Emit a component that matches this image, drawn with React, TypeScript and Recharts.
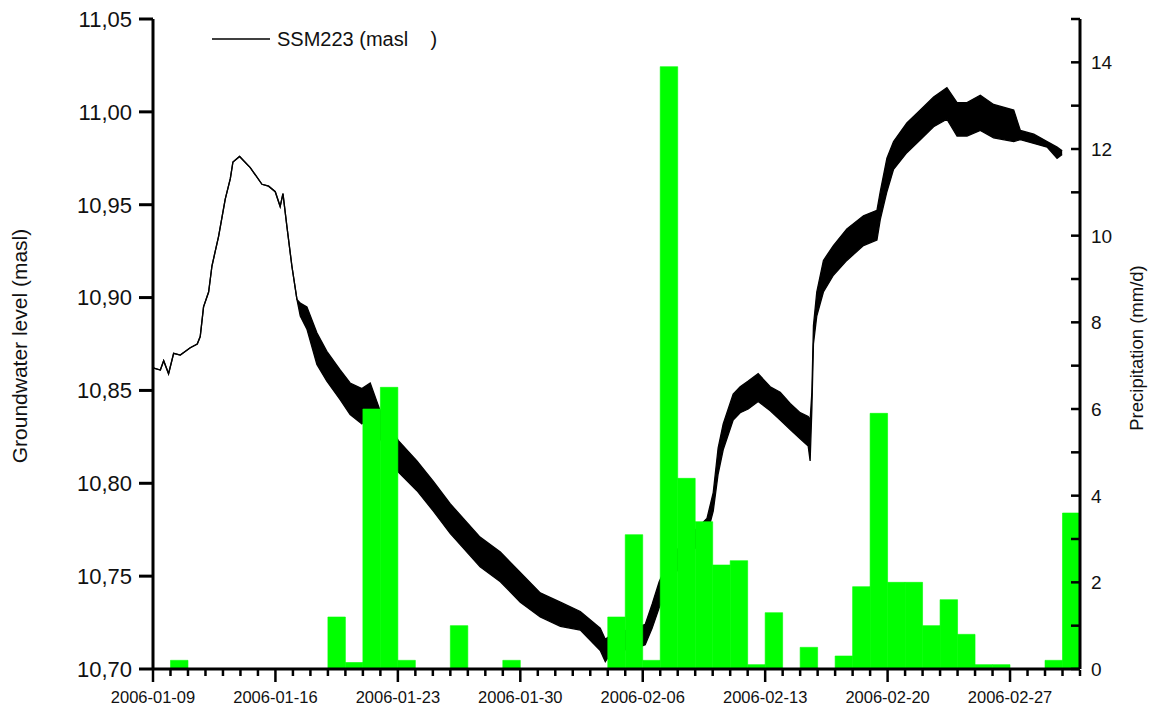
import React from 'react';
import { ComposedChart, Area, Bar, XAxis, YAxis } from 'recharts';

// Day offsets are counted from 2006-01-09 00:00
const xMajorDays = [0, 7, 14, 21, 28, 35, 42, 49];
const xMajorLabels = ['2006-01-09', '2006-01-16', '2006-01-23', '2006-01-30', '2006-02-06', '2006-02-13', '2006-02-20', '2006-02-27'];
const xAllTickDays = Array.from({ length: 54 }, (_, i) => i);

const yLeftTicks = [10.7, 10.75, 10.8, 10.85, 10.9, 10.95, 11.0, 11.05];
const yRightTicks = Array.from({ length: 16 }, (_, i) => i);

// Daily precipitation (mm/d), one value per day starting 2006-01-09
const precipDay = Array.from({ length: 53 }, (_, i) => i);
const precipValue = [
  0, 0.2, 0, 0, 0, 0, 0, 0, 0, 0,
  1.2, 0.15, 6.0, 6.5, 0.2, 0, 0, 1.0, 0, 0,
  0.2, 0, 0, 0, 0, 0, 1.2, 3.1, 0.2, 13.9,
  4.4, 3.4, 2.4, 2.5, 0.1, 1.3, 0, 0.5, 0, 0.3,
  1.9, 5.9, 2.0, 2.0, 1.0, 1.6, 0.8, 0.1, 0.1, 0,
  0, 0.2, 3.6,
];

// Groundwater level SSM223 (masl): upper and lower envelope of the logged signal
const gwDay = [
  0.05, 0.42, 0.61, 0.89, 1.18, 1.56, 2.13, 2.53, 2.7, 2.89,
  3.18, 3.37, 3.75, 4.13, 4.42, 4.57, 4.95, 5.56, 6.23, 6.61,
  6.99, 7.27, 7.43, 7.66, 7.94, 8.23,
  8.42, 8.8, 9.37, 9.94, 10.7, 11.27, 11.94, 12.42, 12.99, 14.03,
  15.09, 16.03, 16.99, 18.7, 19.86, 21.0, 22.14, 23.29, 24.43, 25.57,
  25.86, 26.14, 26.71, 27.57, 28.14, 28.54, 28.94, 29.57, 30.71, 31.67,
  32.03, 32.31, 32.6, 33.17, 33.57, 34.03, 34.6, 35.29, 35.86, 36.43,
  37.0, 37.46, 37.57, 37.67, 37.76, 37.95, 38.33, 38.9, 39.67, 40.62,
  41.39, 41.58, 41.96, 42.34, 43.1, 43.87, 44.63, 45.39, 45.97, 46.54,
  47.3, 48.06, 49.21, 49.59, 50.36, 51.12, 51.69, 51.98,
];
const gwHigh = [
  10.862, 10.861, 10.866, 10.859, 10.87, 10.869, 10.873, 10.875, 10.879, 10.895,
  10.903, 10.917, 10.933, 10.953, 10.964, 10.973, 10.976, 10.97, 10.961, 10.96,
  10.957, 10.949, 10.956, 10.938, 10.917, 10.899,
  10.897, 10.895, 10.881, 10.871, 10.861, 10.854, 10.851, 10.854, 10.839, 10.823,
  10.812, 10.801, 10.789, 10.771, 10.763, 10.752, 10.741, 10.736, 10.731, 10.722,
  10.716, 10.718, 10.72, 10.722, 10.724, 10.735, 10.747, 10.76, 10.772, 10.781,
  10.795, 10.819, 10.832, 10.848, 10.852, 10.855, 10.859, 10.852, 10.849, 10.843,
  10.838, 10.836, 10.834, 10.849, 10.885, 10.903, 10.92, 10.928, 10.937, 10.944,
  10.947, 10.957, 10.975, 10.984, 10.994, 11.001, 11.008, 11.013, 11.005, 11.005,
  11.009, 11.004, 11.001, 10.99, 10.988, 10.984, 10.981, 10.979,
];
const gwLow = [
  10.862, 10.861, 10.866, 10.859, 10.87, 10.869, 10.873, 10.875, 10.879, 10.895,
  10.903, 10.917, 10.933, 10.953, 10.964, 10.973, 10.976, 10.97, 10.961, 10.96,
  10.957, 10.949, 10.956, 10.938, 10.917, 10.899,
  10.89, 10.883, 10.864, 10.855, 10.845, 10.837, 10.832, 10.837, 10.824, 10.806,
  10.796, 10.785, 10.773, 10.755, 10.747, 10.736, 10.728, 10.723, 10.721, 10.71,
  10.704, 10.708, 10.71, 10.711, 10.713, 10.722, 10.733, 10.748, 10.762, 10.772,
  10.785, 10.805, 10.818, 10.834, 10.838, 10.84, 10.844, 10.839, 10.834, 10.829,
  10.824, 10.82, 10.812, 10.84, 10.875, 10.89, 10.903, 10.912, 10.92, 10.928,
  10.931, 10.942, 10.957, 10.969, 10.978, 10.985, 10.992, 10.996, 10.987, 10.987,
  10.99, 10.986, 10.984, 10.985, 10.983, 10.981, 10.975, 10.977,
];

const FONT = '"Liberation Sans", Arial, Helvetica, sans-serif';
const INK = '#111';

const CHART_W = 1155;
const CHART_H = 710;

const precipData = precipDay.map((d, i) => ({ day: d + 0.5, precip: precipValue[i] }));
const gwData = gwDay.map((d, i) => ({ day: d, level: [gwLow[i], gwHigh[i]] }));

// Bottom axis tick: y is the axis line position (tickSize and tickMargin are 0)
const XTick = (props: any) => {
  const { x, y, payload } = props;
  const idx = xMajorDays.indexOf(payload.value);
  const major = idx >= 0;
  return (
    <g>
      <line x1={x} x2={x} y1={y + 1} y2={y + (major ? 13 : 7)} stroke="#000" strokeWidth={2.5} />
      {major && (
        <text x={x} y={y + 34} textAnchor="middle" fontSize={16.5} fontFamily={FONT} fill={INK}>
          {xMajorLabels[idx]}
        </text>
      )}
    </g>
  );
};

const RightTick = (props: any) => {
  const { x, y, payload } = props;
  const v = payload.value;
  const labeled = v % 2 === 0 && v <= 14;
  return (
    <g>
      <line x1={x - 9} x2={x} y1={y} y2={y} stroke="#000" strokeWidth={2.5} />
      {labeled && (
        <text x={x + 11} y={y} dy="0.36em" textAnchor="start" fontSize={19} fontFamily={FONT} fill={INK}>
          {v}
        </text>
      )}
    </g>
  );
};

const LeftTitle = (props: any) => {
  const vb = props.viewBox || { x: 0, y: 19, width: 153, height: 650 };
  const cx = vb.x + 19;
  const cy = vb.y + vb.height / 2 + 2;
  return (
    <text x={cx} y={cy} transform={`rotate(-90, ${cx}, ${cy})`} textAnchor="middle" dy="0.36em"
      fontSize={21} fontFamily={FONT} fill={INK}>
      Groundwater level (masl)
    </text>
  );
};

const RightTitle = (props: any) => {
  const vb = props.viewBox || { x: 1080, y: 19, width: 75, height: 650 };
  const cx = vb.x + 56;
  const cy = vb.y + vb.height / 2 + 4;
  return (
    <text x={cx} y={cy} transform={`rotate(-90, ${cx}, ${cy})`} textAnchor="middle" dy="0.36em"
      fontSize={18.5} fontFamily={FONT} fill={INK}>
      Precipitation (mm/d)
    </text>
  );
};

const LegendBox = () => (
  <div style={{ position: 'absolute', left: 212, top: 27, display: 'flex', alignItems: 'center', fontFamily: FONT, fontSize: 20, color: INK, lineHeight: '24px', pointerEvents: 'none' }}>
    <svg width={58} height={4} style={{ display: 'block' }}>
      <line x1={0} y1={2} x2={58} y2={2} stroke="#000" strokeWidth={1.5} />
    </svg>
    <span style={{ marginLeft: 7, whiteSpace: 'pre' }}>{'SSM223 (masl    )'}</span>
  </div>
);

export default function App() {
  return (
    <div style={{ position: 'absolute', left: 0, top: 0, width: CHART_W, height: CHART_H, background: '#fff', overflow: 'hidden' }}>
      <ComposedChart width={CHART_W} height={CHART_H} data={precipData} margin={{ top: 19, right: 0, bottom: 0, left: 0 }}>
        <XAxis
          xAxisId="main"
          dataKey="day"
          type="number"
          domain={[0, 53]}
          allowDataOverflow
          ticks={xAllTickDays}
          interval={0}
          height={41}
          tickSize={0}
          tickMargin={0}
          tickLine={false}
          axisLine={{ stroke: '#000', strokeWidth: 3 }}
          tick={<XTick />}
        />
        <XAxis xAxisId="bar" dataKey="day" type="number" domain={[0, 53]} allowDataOverflow height={0} hide />
        <YAxis
          yAxisId="left"
          orientation="left"
          type="number"
          domain={[10.7, 11.05]}
          allowDataOverflow
          ticks={yLeftTicks}
          interval={0}
          width={153}
          tickSize={14}
          tickMargin={7}
          tickLine={{ stroke: '#000', strokeWidth: 3 }}
          axisLine={{ stroke: '#000', strokeWidth: 3 }}
          tick={{ fill: INK, fontSize: 22, fontFamily: FONT }}
          tickFormatter={(v: number) => v.toFixed(2).replace('.', ',')}
          label={(p: any) => <LeftTitle {...p} />}
        />
        <YAxis
          yAxisId="right"
          orientation="right"
          type="number"
          domain={[0, 15]}
          allowDataOverflow
          ticks={yRightTicks}
          interval={0}
          width={75}
          tickSize={0}
          tickMargin={0}
          tickLine={false}
          axisLine={{ stroke: '#000', strokeWidth: 3 }}
          tick={<RightTick />}
          label={(p: any) => <RightTitle {...p} />}
        />
        <Area
          xAxisId="main"
          yAxisId="left"
          data={gwData}
          dataKey="level"
          type="linear"
          stroke="#000"
          strokeWidth={1.3}
          fill="#000"
          fillOpacity={1}
          dot={false}
          activeDot={false}
          isAnimationActive={false}
        />
        <Bar
          xAxisId="bar"
          yAxisId="right"
          dataKey="precip"
          fill="#00ff00"
          stroke="#00ff00"
          strokeWidth={0.6}
          barSize={17.48}
          isAnimationActive={false}
        />
      </ComposedChart>
      <LegendBox />
    </div>
  );
}
